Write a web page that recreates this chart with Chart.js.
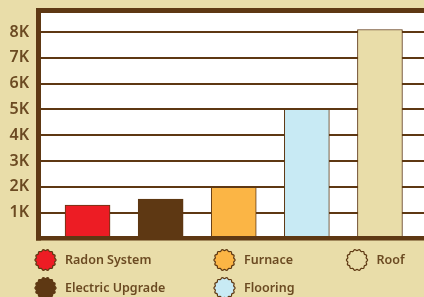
<!DOCTYPE html>
<html>
<head>
<meta charset="utf-8">
<script src="https://cdn.jsdelivr.net/npm/chart.js@4/dist/chart.umd.min.js"></script>
<style>
  html, body { margin: 0; padding: 0; background: #E9DDA9; }
  #wrap { width: 424px; height: 297px; }
</style>
</head>
<body>
<div id="wrap"><canvas id="costChart" width="424" height="297"></canvas></div>
<script>
// Chart data
const projects = ['Radon System', 'Electric Upgrade', 'Furnace', 'Flooring', 'Roof'];
const costs = [1300, 1530, 1980, 5010, 8100];
const barColors = ['#ED1C24', '#5E3813', '#FBB545', '#C8EAF4', '#E9DDA9'];
const yTicks = [1000, 2000, 3000, 4000, 5000, 6000, 7000, 8000];

// legend order: three columns, two rows
const legendOrder = [0, 2, 4, 1, 3];

const brown = '#5E3813';
const textBrown = '#6B4A22';

// white plot box, grid lines and thick frame
const framePlugin = {
  id: 'framePlugin',
  beforeDatasetsDraw(chart) {
    const ctx = chart.ctx;
    const y = chart.scales.y;
    const top = chart.chartArea.top;
    const bottom = y.getPixelForValue(0);
    ctx.save();
    ctx.fillStyle = '#FFFFFF';
    ctx.fillRect(41, top, chart.width - 41, bottom - top);
    ctx.strokeStyle = brown;
    ctx.lineWidth = 2;
    yTicks.forEach(v => {
      const py = Math.round(y.getPixelForValue(v));
      ctx.beginPath();
      ctx.moveTo(41, py);
      ctx.lineTo(chart.width, py);
      ctx.stroke();
    });
    ctx.restore();
  },
  afterDatasetsDraw(chart) {
    const ctx = chart.ctx;
    const y = chart.scales.y;
    const top = chart.chartArea.top;
    const bottom = y.getPixelForValue(0);
    ctx.save();
    ctx.fillStyle = brown;
    ctx.fillRect(36, top - 5, chart.width - 36, 5);      // top
    ctx.fillRect(36, top - 5, 5, bottom - top + 7);      // left
    ctx.fillRect(36, bottom - 2.5, chart.width - 36, 4.5); // bottom
    ctx.restore();
  }
};

// scalloped circles with labels under the chart
function scallop(ctx, cx, cy, r) {
  ctx.beginPath();
  for (let i = 0; i <= 120; i++) {
    const a = i / 120 * Math.PI * 2;
    const rr = r + 0.6 * Math.cos(a * 14);
    const px = cx + rr * Math.cos(a);
    const py = cy + rr * Math.sin(a);
    if (i === 0) ctx.moveTo(px, py); else ctx.lineTo(px, py);
  }
  ctx.closePath();
}

const legendPlugin = {
  id: 'legendPlugin',
  afterDraw(chart) {
    const ctx = chart.ctx;
    const colX = [45.5, 224.5, 357];
    const rowY = [260, 288];
    ctx.save();
    legendOrder.forEach((idx, n) => {
      const cx = colX[n % 3];
      const cy = rowY[Math.floor(n / 3)];
      scallop(ctx, cx, cy, 10);
      ctx.fillStyle = barColors[idx];
      ctx.fill();
      ctx.strokeStyle = brown;
      ctx.lineWidth = 1.2;
      ctx.stroke();
      ctx.fillStyle = textBrown;
      ctx.font = '600 12.5px "Noto Sans"';
      ctx.textAlign = 'left';
      ctx.textBaseline = 'middle';
      ctx.fillText(projects[idx], cx + 19.5, cy + 0.5);
    });
    ctx.restore();
  }
};

new Chart(document.getElementById('costChart'), {
  type: 'bar',
  data: {
    labels: projects,
    datasets: [{
      data: costs,
      backgroundColor: barColors,
      borderColor: brown,
      borderWidth: 1,
      borderSkipped: 'bottom',
      barThickness: 45,
      categoryPercentage: 1
    }]
  },
  options: {
    responsive: false,
    animation: false,
    devicePixelRatio: 1,
    layout: { padding: { top: 13, right: 7.5, bottom: 58.5, left: 0 } },
    plugins: {
      legend: { display: false },
      tooltip: { enabled: false }
    },
    scales: {
      x: { display: false },
      y: {
        min: 0,
        max: 8740,
        afterFit(scale) {
          scale.width = 51;
          scale.paddingTop = 0;
          scale.paddingBottom = 0;
        },
        afterBuildTicks(scale) {
          scale.ticks = yTicks.map(v => ({ value: v }));
        },
        grid: { display: false, drawTicks: false },
        border: { display: false },
        ticks: {
          padding: 22,
          color: textBrown,
          font: { family: '"Noto Sans"', size: 16, weight: '600' },
          callback: v => (v / 1000) + 'K'
        }
      }
    }
  },
  plugins: [framePlugin, legendPlugin]
});
</script>
</body>
</html>
